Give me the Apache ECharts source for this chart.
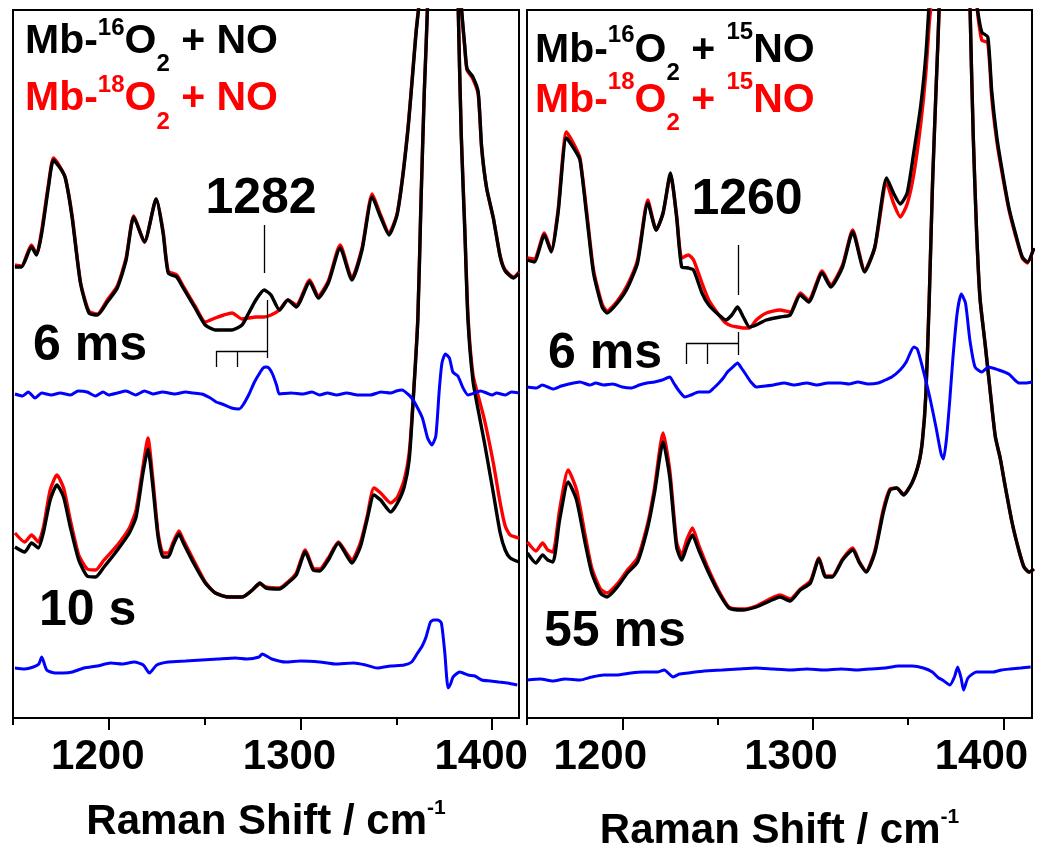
<!DOCTYPE html>
<html><head><meta charset="utf-8">
<script src="https://cdn.jsdelivr.net/npm/echarts@6/dist/echarts.min.js"></script>
<style>html,body{margin:0;padding:0;background:#fff}#c{width:1050px;height:860px}</style>
</head><body><div id="c"></div>
<script>
// ---------------- DATA (Raman shift in cm-1, intensity in arbitrary units) ----------------
const majorTicks = [1200, 1300, 1400];
const minorTicks = [1150, 1250, 1350];

// Left panel, 6 ms spectra
const L6_x = [1151,1154.4,1159.6,1162.3,1165,1168.5,1171.1,1174.6,1177.3,1180.8,1185.2,1189.6,1194,1199.2,1204.4,1209,1213,1218.6,1224.7,1228.3,1231,1235.4,1238.8,1245,1250.3,1255.5,1260,1264.3,1269.5,1273,1276.7,1281,1284.6,1289,1293.4,1297.8,1304.8,1309.3,1314.5,1320.7,1326.8,1332.1,1337.4,1341.8,1346.2,1350.6,1355.9,1360.3,1362,1366,1372,1378,1383.7,1385.7,1386.9,1389.7,1392.7,1394.5,1397.1,1400.6,1404.2,1406.8,1411.2,1414];
const L6_O16 = [45.1,45.1,47.1,46.3,48.5,53.1,55.8,55.0,54.0,50.1,43.5,40.5,40.3,41.6,43.0,45.8,50.1,47.6,51.9,48.5,44.5,44.1,43.0,41.0,39.3,38.8,38.8,38.8,39.3,40.5,41.8,42.8,42.3,40.8,41.8,41.1,43.6,42.0,43.5,47.0,43.8,46.8,52.1,50.1,48.3,50.5,58.5,68.5,71.8,100,140,100,71.8,67.2,64.9,64.2,62.6,57.1,53.0,50.0,46.1,44.7,44.0,44.5];
const L6_O18 = [45.3,45.2,47.3,46.4,48.8,53.4,56.0,55.1,54.0,50.3,43.6,40.7,40.4,41.8,43.2,46.0,50.2,47.6,51.9,48.7,44.7,44.3,43.2,41.2,39.6,40.0,40.3,40.5,39.9,40.0,40.1,40.1,40.3,40.8,41.8,41.3,43.8,42.2,43.7,47.3,44.0,47.0,52.4,50.3,48.5,50.6,58.7,68.7,72.0,100,140,100,71.8,67.0,64.8,64.0,62.4,57.0,53.0,50.0,46.2,44.8,44.1,44.6];
const L6_diff_x = [1151,1155,1158,1161.5,1165,1170,1174.6,1180,1184,1188.7,1193,1197,1200,1204.5,1209,1214,1218.6,1223,1228,1234.5,1240,1244,1248.5,1253,1256,1259.1,1264,1267.9,1270,1273.2,1276,1278.4,1280.5,1282,1283.5,1285.4,1287.5,1289,1295,1301.3,1306,1310,1314,1318.9,1324,1330,1336.5,1342,1347,1350,1353,1356,1358,1360,1363.6,1366.3,1368.5,1370.6,1372.4,1373.8,1375.6,1377.7,1379.5,1382.1,1384.8,1387.4,1390.9,1394,1397.1,1400,1402.3,1406.9,1410,1414];
const L6_diff = [32.4,32.2,32.6,32.0,32.5,32.3,32.5,32.3,32.7,32.6,32.2,32.6,32.3,32.5,32.7,32.3,32.7,32.4,32.6,32.4,32.6,32.5,32.4,32.0,31.6,31.4,31.0,30.9,31.3,32.4,33.6,34.4,35.0,35.1,35.0,34.4,33.3,32.4,32.5,32.4,32.6,32.3,32.5,32.3,32.5,32.3,32.3,32.6,32.5,32.7,32.8,32.4,32.0,31.4,30.0,28.0,27.3,28.2,32.8,35.5,36.4,36.0,34.6,34.2,33.0,32.3,32.5,32.7,32.5,32.3,32.5,32.3,32.6,32.5];

// Left panel, 10 s spectra
const L10_x = [1151,1156.1,1159.7,1163.2,1165.8,1169.4,1172.9,1176.4,1179.9,1184.3,1188.7,1193.1,1197.5,1204.5,1210.7,1214.2,1217.8,1220.4,1223,1225.7,1228.3,1231,1233.6,1236.6,1238.9,1244.2,1250.3,1255.6,1262.6,1269.6,1274.9,1278.8,1282,1289,1293.4,1297.8,1302.5,1306.6,1310.1,1314.5,1319.8,1323.3,1326.8,1331.2,1334.7,1338.3,1341.8,1347.1,1350.6,1354.1,1356.7,1358.5,1361.2,1362.8,1364.6,1366.4,1370,1375,1379,1382.2,1383.9,1385.7,1387.4,1390,1393,1396,1400.6,1404.2,1406.8,1409.4,1414];
const L10_O16 = [17.1,16.6,17.5,17.0,18.5,21.8,23.3,22.1,19.1,15.8,14.2,14.1,15.1,16.8,18.5,20.1,24.5,26.9,23.1,18.1,16.1,16.1,17.3,18.4,17.5,15.5,13.5,12.5,12.1,12.1,12.8,13.5,13.0,12.9,13.5,14.3,16.6,14.8,14.7,15.8,17.5,16.5,15.5,17.1,19.8,22.3,21.8,20.6,21.5,23.1,25.8,30.8,39.7,51.1,62.6,71.8,110,140,110,71.8,58.0,48.8,39.7,33.7,30.5,27.5,22.5,18.5,16.8,16.0,15.6];
const L10_O18 = [18.5,17.6,18.3,17.6,19.0,22.8,24.3,23.0,19.8,16.3,14.9,14.8,15.8,17.3,19.0,20.8,25.1,28.0,23.8,18.5,16.5,16.5,17.6,18.7,17.8,15.8,13.6,12.5,12.1,12.1,12.8,13.4,13.1,13.0,13.6,14.5,16.8,15.0,14.9,16.0,17.6,16.7,15.8,17.5,20.1,23.0,22.5,21.5,22.1,23.8,26.5,31.1,40.0,51.4,62.8,72.0,110,140,110,71.8,58.3,49.2,40.2,34.3,32.0,29.8,25.5,21.5,19.2,18.3,18.0];
const L10_diff_x = [1151,1156,1160.6,1163.5,1165,1167.6,1172,1176.4,1181,1187,1194,1201,1207,1213.3,1218,1221.2,1225,1231,1240,1248.5,1257,1266.1,1272,1278.4,1280,1285,1292.5,1300,1310.1,1318,1327.7,1334,1340,1347,1354.1,1358,1361.1,1363.5,1365.5,1367.8,1369.5,1371.7,1373.5,1375.3,1377,1378.3,1379.6,1383.1,1387.5,1391,1394.6,1399,1403.4,1408,1413.1];
const L10_diff = [5.0,4.9,5.1,5.4,6.1,4.8,4.5,4.5,4.6,5.0,5.2,5.5,5.4,5.6,5.3,4.5,5.3,5.6,5.7,5.8,5.9,6.0,5.9,6.1,6.4,5.9,5.6,5.7,5.6,5.4,5.5,5.3,5.0,5.2,5.3,5.6,6.5,7.2,8.1,9.6,9.8,9.8,9.5,6.5,3.0,3.4,4.1,4.6,4.3,4.2,3.8,3.7,3.6,3.5,3.3];

// Right panel, 6 ms spectra (15NO)
const R6_x = [1150.2,1153.8,1159.1,1162.7,1166.3,1170.7,1175.1,1177.8,1181.4,1184.9,1189.4,1192,1197.4,1202.7,1208,1213.4,1217.8,1221.4,1225.3,1228.5,1231.2,1234.7,1237.4,1241.8,1245.4,1250.7,1254.3,1257.5,1260.5,1263.5,1266.7,1270.3,1275.6,1282.7,1288.1,1293.4,1297.8,1304.9,1309.4,1315.6,1320.9,1327.2,1332.5,1338.7,1342.3,1345.9,1349.5,1353,1356.6,1359.3,1361.1,1362.2,1368,1374,1380,1385.9,1388.6,1391.8,1393.9,1396.6,1399.3,1402.8,1406.4,1409.9,1412.6,1416];
const R6_O16 = [45.8,45.6,48.3,46.6,50.5,58.0,56.8,55.8,50.1,44.5,41.1,40.5,41.5,43.0,45.5,51.5,48.8,50.5,54.5,50.1,45.1,45.0,44.8,42.5,41.3,40.3,39.8,40.3,41.1,40.1,39.1,39.3,39.8,40.1,40.3,42.3,41.6,44.5,43.1,45.1,48.6,44.6,47.1,54.0,52.5,51.4,52.5,56.6,61.2,66.3,71.8,76,120,150,120,71.8,68.6,68.1,62.6,58.0,54.8,51.1,48.4,46.1,45.6,47.0];
const R6_O18 = [46.0,45.9,48.5,46.8,50.8,58.6,57.2,56.0,50.5,44.8,41.4,40.7,41.7,43.3,45.8,51.8,48.8,50.5,54.3,50.3,46.0,46.3,45.8,43.5,41.8,40.3,39.5,39.2,39.1,39.0,39.0,39.8,40.5,40.8,40.6,42.5,41.8,44.7,43.3,45.3,48.8,44.8,47.0,53.5,51.5,50.1,51.4,54.4,59.4,64.5,69.5,71.8,120,150,120,71.8,67.8,67.5,62.0,57.6,54.5,50.9,48.2,46.0,45.5,47.0];
const R6_diff_x = [1150.2,1155,1158,1163.6,1168,1172,1177.8,1183,1186,1190.3,1195,1200,1204.5,1209,1213,1216.9,1221,1224.9,1227,1229.4,1232.9,1236,1240.1,1245.4,1248,1250.7,1253,1255.2,1258,1260.5,1262.5,1265,1267.5,1270.3,1275,1279.2,1285,1290,1296.9,1302,1308,1314.7,1319,1323.6,1329,1334.3,1338,1341.4,1345.8,1349,1353,1354.8,1357.5,1361.1,1364.6,1367.3,1368.5,1370,1371.7,1373.5,1375.8,1377.9,1380.1,1382.4,1385.1,1388.6,1392.2,1397.5,1402.8,1406,1408.2,1411.7,1415];
const R6_diff = [33.1,33.0,33.3,32.9,33.2,33.4,33.6,33.3,33.5,33.3,33.4,33.1,33.0,33.3,33.5,33.6,33.8,34.1,33.5,32.8,32.1,32.3,32.6,32.6,33.0,33.5,34.0,34.6,35.1,35.5,35.0,34.3,33.6,33.1,33.2,33.3,33.5,33.3,33.5,33.3,33.5,33.5,33.4,33.6,33.4,33.5,33.8,34.1,34.8,35.6,37.1,36.9,35.1,32.3,29.1,26.4,25.9,27.7,31.4,36.0,40.6,42.4,41.5,37.8,35.1,34.6,35.1,34.8,34.4,33.8,33.5,33.5,33.6];

// Right panel, 55 ms spectra (15NO)
const R55_x = [1150.2,1154.7,1158.2,1160.9,1163.6,1167.1,1171.6,1176,1180.5,1184,1188.5,1192,1197.4,1202.7,1208,1213.4,1216.9,1221.4,1224.9,1228.5,1231.2,1233.8,1236.8,1240.1,1245.4,1250.7,1256,1263.2,1270.3,1277.4,1282.7,1288.1,1293.4,1298.7,1303.2,1306.7,1310.2,1315.6,1320.9,1324.5,1328,1332.5,1336.9,1340.5,1344,1347.6,1352,1355.6,1357.5,1359.3,1361.1,1362.8,1364.6,1366.4,1370,1375,1379,1382.4,1384.2,1385.9,1387.7,1390.4,1393,1395.7,1398.4,1401,1404.6,1408.2,1410.8,1413.5,1416];
const R55_O16 = [16.5,15.5,16.3,15.8,15.6,19.8,23.6,21.8,17.5,14.5,12.5,12.1,13.1,14.5,15.6,19.1,22.5,27.6,24.1,17.1,15.8,17.1,18.3,16.8,14.5,12.5,11.0,10.8,11.1,11.7,12.1,11.7,12.8,13.5,15.9,14.1,14.1,15.8,16.8,15.5,14.6,16.5,20.5,22.8,23.0,22.3,23.5,25.5,27.7,32.3,42.0,53.4,62.6,71.8,110,140,110,71.8,58.0,48.8,42.0,37.4,32.8,28.2,25.9,23.1,19.5,16.7,15.1,14.6,14.9];
const R55_O18 = [17.6,16.7,17.5,16.8,16.6,20.8,24.8,22.8,18.3,15.0,12.9,12.5,13.4,14.8,16.0,19.5,23.0,28.5,24.8,17.6,16.3,17.8,19.0,17.3,14.8,12.7,11.1,10.9,11.2,11.9,12.3,11.9,12.9,13.7,16.0,14.2,14.2,15.9,17.0,15.6,14.7,16.7,20.8,22.9,23.0,22.4,23.5,25.5,27.8,32.4,42.1,53.5,62.7,71.8,110,140,110,71.8,58.0,48.8,42.0,37.4,32.8,28.2,25.9,23.1,19.5,16.7,15.1,14.6,14.9];
const R55_diff_x = [1150.2,1157,1163.6,1170,1177.8,1184,1190.3,1197,1204.5,1211,1218.7,1222,1226.7,1230,1234.7,1243,1252.5,1261,1270.3,1279,1288.1,1297,1305.8,1315,1323.6,1330,1337.9,1345,1352.1,1358,1362.7,1366,1368,1371.9,1374.3,1376,1377.8,1379.1,1381.4,1385.8,1390,1394.7,1399,1403.6,1409,1414.3];
const R55_diff = [3.8,3.9,3.7,3.9,3.8,4.1,4.3,4.3,4.5,4.6,4.6,4.8,4.1,4.4,4.5,4.7,4.8,4.9,5.0,4.9,4.8,4.9,4.8,4.9,4.8,4.9,5.0,5.2,5.2,5.0,4.6,4.0,3.8,3.3,4.1,5.1,4.0,2.8,4.0,4.6,4.6,4.6,4.8,4.9,5.0,5.1];

// Annotation guide segments [x1, y1, x2, y2] in data units
const L_guides = [[1281,49.3,1281,44.5],[1282.6,41.8,1282.6,36.0],[1256.1,36.7,1282.6,36.7],[1256.1,36.7,1256.1,35.1],[1267,36.7,1267,35.1]];
const R_guides = [[1260.8,47.3,1260.8,42.3],[1260.8,38.6,1260.8,36.3],[1233.5,37.5,1260.8,37.5],[1233.5,37.5,1233.5,35.4],[1244.5,37.5,1244.5,35.4]];

// ---------------- CHART ----------------
const FONT = '"Liberation Sans", Arial, Helvetica, sans-serif';
const BLACK = '#000000', RED = '#ff0000', BLUE = '#0000ff';
const pairs = (xs, ys) => xs.map((x, i) => [x, ys[i]]);

function line(xs, ys, color, gi, z, w) {
  return { type: 'line', xAxisIndex: gi * 2 + 1, yAxisIndex: gi, data: pairs(xs, ys),
    symbol: 'none', showSymbol: false, smooth: 0.2, clip: true, silent: true, animation: false, z: z,
    lineStyle: { color: color, width: w || 3.4 } };
}
function guides(segs) {
  return { silent: true, symbol: ['none', 'none'], animation: false, label: { show: false },
    lineStyle: { color: BLACK, width: 1.3, type: 'solid' },
    data: segs.map(s => [{ coord: [s[0], s[1]] }, { coord: [s[2], s[3]] }]) };
}
function xAxes(gi, max, labelShift, nameGap) {
  const base = { gridIndex: gi, type: 'value', position: 'bottom', min: 1150, max: max, splitLine: { show: false } };
  return [
    Object.assign({}, base, {
      axisLine: { show: true, onZero: false, lineStyle: { color: BLACK, width: 2 } },
      axisTick: { show: true, length: 7, customValues: minorTicks, lineStyle: { color: BLACK, width: 2 } },
      axisLabel: { show: false } }),
    Object.assign({}, base, {
      axisLine: { show: false, onZero: false },
      axisTick: { show: true, length: 12, customValues: majorTicks, lineStyle: { color: BLACK, width: 2 } },
      axisLabel: { show: true, customValues: majorTicks, margin: 18, fontSize: 42, fontWeight: 'bold',
        fontFamily: FONT, color: BLACK, padding: [0, labelShift * 2, 0, 0], formatter: v => String(v) },
      name: 'Raman Shift / cm{sup|-1}', nameLocation: 'middle', nameGap: nameGap,
      nameTextStyle: { fontSize: 42, fontWeight: 'bold', fontFamily: FONT, color: BLACK, lineHeight: 48,
        rich: { sup: { fontSize: 21, fontWeight: 'bold', fontFamily: FONT, color: BLACK, lineHeight: 22, verticalAlign: 'top' } } } })
  ];
}

// text helpers
const mctx = document.createElement('canvas').getContext('2d');
function tw(t, size) { mctx.font = 'bold ' + size + 'px ' + FONT; return mctx.measureText(t).width; }
function formula(x0, parts, color) {
  const out = []; let x = x0;
  parts.forEach(p => {
    out.push({ type: 'text', x: x, y: p[2], silent: true, z: 100,
      style: { text: p[0], font: 'bold ' + p[1] + 'px ' + FONT, fill: color, align: 'left', verticalAlign: 'middle' } });
    x += tw(p[0], p[1]);
  });
  return out;
}
function label(t, x, y, align, size) {
  return { type: 'text', x: x, y: y, silent: true, z: 100,
    style: { text: t, font: 'bold ' + size + 'px ' + FONT, fill: BLACK, align: align, verticalAlign: 'middle' } };
}
const M = 41, S = 24;
const graphics = [].concat(
  formula(25, [['Mb-', M, 41.5], ['16', S, 28.5], ['O', M, 41.5], ['2', S, 64.5], [' + NO', M, 41.5]], BLACK),
  formula(25, [['Mb-', M, 99], ['18', S, 85], ['O', M, 99], ['2', S, 122.5], [' + NO', M, 99]], RED),
  formula(535, [['Mb-', M, 51], ['16', S, 35], ['O', M, 51], ['2', S, 73.5], [' + ', M, 51], ['15', S, 32.5], ['NO', M, 51]], BLACK),
  formula(535, [['Mb-', M, 100.5], ['18', S, 82.5], ['O', M, 100.5], ['2', S, 123], [' + ', M, 100.5], ['15', S, 82.5], ['NO', M, 100.5]], RED),
  [label('1282', 261, 199, 'center', 50), label('1260', 747, 200, 'center', 50),
   label('6 ms', 33, 346, 'left', 50), label('10 s', 39, 611, 'left', 50),
   label('6 ms', 548, 354, 'left', 50), label('55 ms', 544, 632, 'left', 50)]
);

const gridStyle = { show: true, borderColor: BLACK, borderWidth: 2, backgroundColor: 'transparent',
  containLabel: false, outerBoundsMode: 'none' };
const option = {
  animation: false,
  backgroundColor: '#ffffff',
  grid: [Object.assign({ left: 13, top: 10, width: 506, height: 708 }, gridStyle),
         Object.assign({ left: 527, top: 10, width: 505, height: 708 }, gridStyle)],
  xAxis: [].concat(xAxes(0, 1414, 11, 80), xAxes(1, 1415, 22, 89)),
  yAxis: [0, 1].map(gi => ({ gridIndex: gi, type: 'value', min: 0, max: 70.8, show: false, splitLine: { show: false } })),
  series: [
    line(L6_x, L6_O18, RED, 0, 2), Object.assign(line(L6_x, L6_O16, BLACK, 0, 3), { markLine: guides(L_guides) }),
    line(L6_diff_x, L6_diff, BLUE, 0, 4, 3),
    line(L10_x, L10_O18, RED, 0, 2), line(L10_x, L10_O16, BLACK, 0, 3),
    line(L10_diff_x, L10_diff, BLUE, 0, 4, 3),
    line(R6_x, R6_O18, RED, 1, 2), Object.assign(line(R6_x, R6_O16, BLACK, 1, 3), { markLine: guides(R_guides) }),
    line(R6_diff_x, R6_diff, BLUE, 1, 4, 3),
    line(R55_x, R55_O18, RED, 1, 2), line(R55_x, R55_O16, BLACK, 1, 3),
    line(R55_diff_x, R55_diff, BLUE, 1, 4, 3)
  ],
  graphic: graphics
};
const chart = echarts.init(document.getElementById('c'), null, { renderer: 'canvas' });
chart.setOption(option);
</script></body></html>
